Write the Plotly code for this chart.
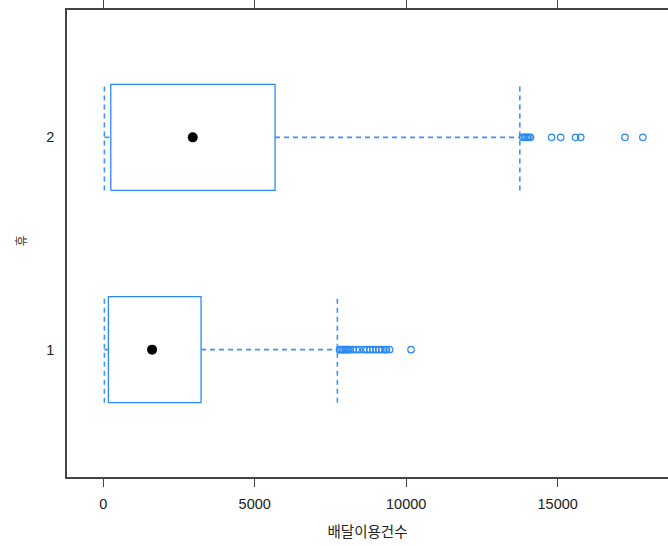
import plotly.graph_objects as go

# ---- data ----
groups = [1, 2]
whisker_low = [40, 40]
q1 = [172, 251]
median = [1613, 2956]
q3 = [3230, 5672]
whisker_high = [7728, 13750]
outliers_1 = [7800, 7850, 7900, 7950, 8000, 8050, 8100, 8150, 8250, 8350, 8450,
              8600, 8700, 8800, 8900, 9000, 9100, 9200, 9300, 9350, 9450, 10160]
outliers_2 = [13850, 13900, 13950, 14000, 14050, 14100, 14800, 15100,
              15590, 15760, 17220, 17810]
outliers = [outliers_1, outliers_2]
x_ticks = [0, 5000, 10000, 15000]
x_title = "배달이용건수"
y_title = "휴"

BLUE = "#2a8af2"
BLUE_DASH = "#3d94f2"
HALF = 0.25
DASH = "5px,4px"

fig = go.Figure()
for i, g in enumerate(groups):
    # box rectangle
    fig.add_trace(go.Scatter(
        x=[q1[i], q3[i], q3[i], q1[i], q1[i]],
        y=[g - HALF, g - HALF, g + HALF, g + HALF, g - HALF],
        mode="lines", line=dict(color=BLUE, width=1.3),
        hoverinfo="skip", showlegend=False))
    # whiskers
    fig.add_trace(go.Scatter(
        x=[whisker_low[i], q1[i], None, q3[i], whisker_high[i]],
        y=[g, g, None, g, g],
        mode="lines", line=dict(color=BLUE_DASH, width=1.6, dash=DASH),
        hoverinfo="skip", showlegend=False))
    # whisker end lines
    fig.add_trace(go.Scatter(
        x=[whisker_low[i], whisker_low[i], None, whisker_high[i], whisker_high[i]],
        y=[g - HALF, g + HALF, None, g - HALF, g + HALF],
        mode="lines", line=dict(color=BLUE_DASH, width=1.6, dash=DASH),
        hoverinfo="skip", showlegend=False))
    # outliers
    fig.add_trace(go.Scatter(
        x=outliers[i], y=[g] * len(outliers[i]),
        mode="markers",
        marker=dict(symbol="circle-open", size=6.5, color=BLUE, line=dict(width=1.2)),
        showlegend=False))
    # median dot
    fig.add_trace(go.Scatter(
        x=[median[i]], y=[g], mode="markers",
        marker=dict(symbol="circle", size=10, color="black"),
        showlegend=False))

fig.update_layout(
    width=668, height=546,
    margin=dict(l=67, r=0, t=8, b=69),
    paper_bgcolor="white", plot_bgcolor="white",
    font=dict(family="Liberation Sans, Arial, sans-serif", size=14.5, color="#222"),
    xaxis=dict(
        range=[-1194, 18640],
        tickvals=x_ticks, ticktext=[str(v) for v in x_ticks],
        ticks="outside", ticklen=8, tickwidth=1.3, tickcolor="#444",
        ticklabelstandoff=5,
        showline=True, linecolor="#444", linewidth=1.5, mirror="ticks",
        showgrid=False, zeroline=False,
        title=dict(text=x_title, standoff=16,
                   font=dict(family="Noto Sans CJK KR", size=14.5, color="#222")),
    ),
    yaxis=dict(
        range=[0.4, 2.6],
        tickvals=groups, ticktext=[str(g) for g in groups],
        ticks="outside", ticklen=8, tickcolor="rgba(0,0,0,0)",
        showline=True, linecolor="#444", linewidth=1.5, mirror=False,
        showgrid=False, zeroline=False,
    ),
    annotations=[dict(
        text=y_title, xref="paper", yref="paper", x=-0.078, y=0.505,
        xanchor="center", yanchor="middle", showarrow=False, textangle=-90,
        font=dict(family="Noto Sans CJK KR", size=12, color="#333"))],
)

fig.write_html("out.html", config={"displayModeBar": False},
               post_script="document.body.style.margin='0';")
